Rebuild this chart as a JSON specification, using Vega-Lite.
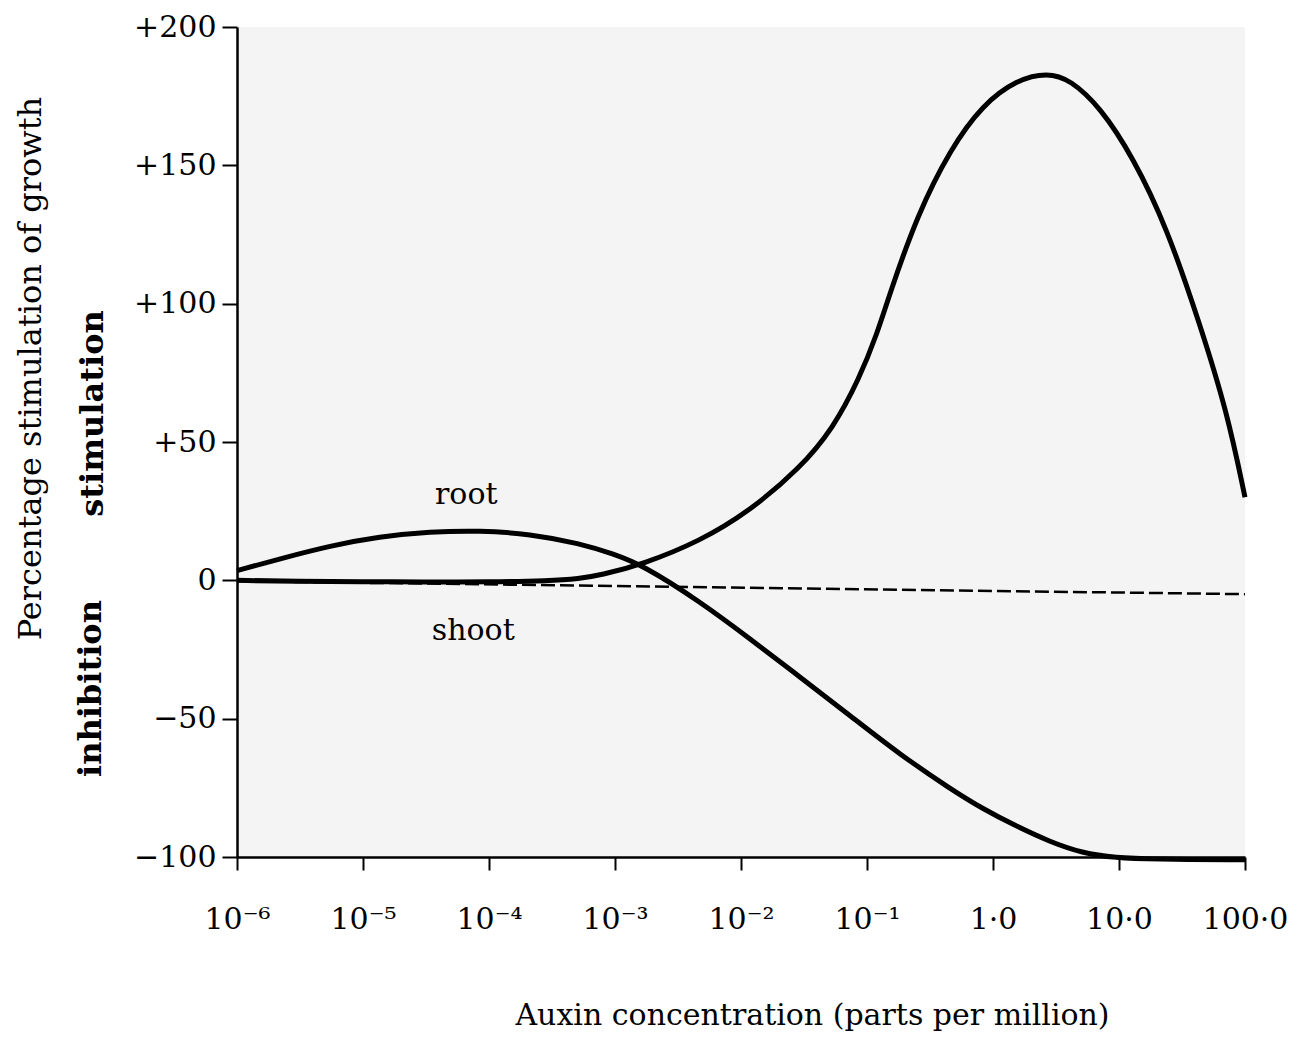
{
  "$schema": "https://vega.github.io/schema/vega-lite/v6.json",
  "width": 1008,
  "height": 830,
  "autosize": "none",
  "padding": {"left": 237, "top": 27, "right": 44, "bottom": 181},
  "background": "white",
  "config": {
    "font": "DejaVu Serif",
    "view": {"stroke": null, "fill": "#f4f4f4"},
    "axis": {
      "labelColor": "#000",
      "titleColor": "#000",
      "domainColor": "#000",
      "tickColor": "#000",
      "grid": false,
      "labelFontWeight": "normal",
      "titleFontWeight": "normal"
    }
  },
  "datasets": {
    "curves": [
      {"series": "root", "conc": 1e-6, "pct": 3.5},
      {"series": "root", "conc": 2.2e-6, "pct": 7.8},
      {"series": "root", "conc": 5.5e-6, "pct": 12.5},
      {"series": "root", "conc": 1.35e-5, "pct": 15.8},
      {"series": "root", "conc": 3.4e-5, "pct": 17.6},
      {"series": "root", "conc": 8.5e-5, "pct": 18},
      {"series": "root", "conc": 2.1e-4, "pct": 16.8},
      {"series": "root", "conc": 5.3e-4, "pct": 13.3},
      {"series": "root", "conc": 9.6e-4, "pct": 9.6},
      {"series": "root", "conc": 1.66e-3, "pct": 5.5},
      {"series": "root", "conc": 4.7e-3, "pct": -7.6},
      {"series": "root", "conc": 1.17e-2, "pct": -21},
      {"series": "root", "conc": 2.95e-2, "pct": -35},
      {"series": "root", "conc": 7.4e-2, "pct": -49},
      {"series": "root", "conc": 0.183, "pct": -63},
      {"series": "root", "conc": 0.46, "pct": -75.4},
      {"series": "root", "conc": 0.83, "pct": -82.6},
      {"series": "root", "conc": 1.55, "pct": -89},
      {"series": "root", "conc": 2.8, "pct": -94.4},
      {"series": "root", "conc": 5.1, "pct": -98.6},
      {"series": "root", "conc": 9.5, "pct": -100.3},
      {"series": "root", "conc": 17.8, "pct": -100.8},
      {"series": "root", "conc": 100, "pct": -101},
      {"series": "shoot", "conc": 1e-6, "pct": 0},
      {"series": "shoot", "conc": 3e-6, "pct": -0.4},
      {"series": "shoot", "conc": 1e-5, "pct": -0.5},
      {"series": "shoot", "conc": 3e-5, "pct": -0.6},
      {"series": "shoot", "conc": 1e-4, "pct": -0.6},
      {"series": "shoot", "conc": 3e-4, "pct": -0.2},
      {"series": "shoot", "conc": 5.2e-4, "pct": 0.6},
      {"series": "shoot", "conc": 7.6e-4, "pct": 1.8},
      {"series": "shoot", "conc": 1.66e-3, "pct": 5.8},
      {"series": "shoot", "conc": 4.7e-3, "pct": 14.1},
      {"series": "shoot", "conc": 1.17e-2, "pct": 25},
      {"series": "shoot", "conc": 2.95e-2, "pct": 40.6},
      {"series": "shoot", "conc": 5.4e-2, "pct": 55},
      {"series": "shoot", "conc": 8.7e-2, "pct": 73},
      {"series": "shoot", "conc": 0.12, "pct": 89},
      {"series": "shoot", "conc": 0.15, "pct": 103},
      {"series": "shoot", "conc": 0.25, "pct": 132},
      {"series": "shoot", "conc": 0.46, "pct": 156},
      {"series": "shoot", "conc": 0.83, "pct": 172},
      {"series": "shoot", "conc": 1.55, "pct": 181},
      {"series": "shoot", "conc": 2.7, "pct": 183.5},
      {"series": "shoot", "conc": 4.1, "pct": 181},
      {"series": "shoot", "conc": 7.1, "pct": 171},
      {"series": "shoot", "conc": 12.9, "pct": 153},
      {"series": "shoot", "conc": 24, "pct": 127.5},
      {"series": "shoot", "conc": 43.7, "pct": 92.8},
      {"series": "shoot", "conc": 72, "pct": 61},
      {"series": "shoot", "conc": 100, "pct": 30}
    ],
    "baseline": [
      {"conc": 1e-6, "pct": -0.3},
      {"conc": 100, "pct": -5}
    ],
    "labels": [
      {"label": "root", "conc": 6.6e-5, "pct": 27.5},
      {"label": "shoot", "conc": 7.5e-5, "pct": -21.4}
    ]
  },
  "layer": [
    {
      "data": {"name": "curves"},
      "mark": {"type": "line", "interpolate": "basis", "strokeWidth": 5, "color": "#000", "clip": false},
      "encoding": {
        "x": {
          "field": "conc", "type": "quantitative",
          "scale": {"type": "log", "domain": [1e-6, 100], "nice": false},
          "axis": {
            "values": [1e-6, 1e-5, 1e-4, 1e-3, 1e-2, 1e-1, 1, 10, 100],
            "labelExpr": "['10⁻⁶','10⁻⁵','10⁻⁴','10⁻³','10⁻²','10⁻¹','1·0','10·0','100·0'][round(log(datum.value)/LN10)+6]",
            "labelFontSize": 30,
            "labelPadding": 34,
            "labelFlush": false,
            "labelOverlap": false,
            "tickSize": 13,
            "tickWidth": 2,
            "domainWidth": 2.5,
            "title": "Auxin concentration (parts per million)",
            "titleFontSize": 30,
            "titleX": 575,
            "titleY": 167,
            "titleAlign": "center",
            "titleBaseline": "alphabetic"
          }
        },
        "y": {
          "field": "pct", "type": "quantitative",
          "scale": {"domain": [-100, 200], "nice": false, "zero": false},
          "axis": {
            "orient": "left",
            "values": [-100, -50, 0, 50, 100, 150, 200],
            "labelExpr": "datum.value > 0 ? '+' + datum.value : (datum.value < 0 ? '−' + abs(datum.value) : '0')",
            "labelFontSize": 30,
            "labelPadding": 6,
            "labelFlush": false,
            "labelOverlap": false,
            "tickSize": 15,
            "tickWidth": 2,
            "domainWidth": 2.5,
            "title": "Percentage stimulation of growth",
            "titleFontSize": 32,
            "titleAngle": -90,
            "titleX": -207,
            "titleY": 341,
            "titleAlign": "center",
            "titleBaseline": "middle"
          }
        },
        "detail": {"field": "series", "type": "nominal"}
      }
    },
    {
      "data": {"name": "baseline"},
      "mark": {"type": "line", "strokeWidth": 2.5, "strokeDash": [14, 5], "color": "#000"},
      "encoding": {
        "x": {"field": "conc", "type": "quantitative", "axis": null},
        "y": {
          "field": "pct", "type": "quantitative",
          "axis": {
            "orient": "left",
            "labels": false, "ticks": false, "domain": false,
            "title": "stimulation",
            "titleFontSize": 32,
            "titleFontWeight": "bold",
            "titleAngle": -90,
            "titleX": -145,
            "titleY": 386,
            "titleAlign": "center",
            "titleBaseline": "middle"
          }
        }
      }
    },
    {
      "data": {"name": "labels"},
      "mark": {"type": "text", "fontSize": 30, "baseline": "alphabetic", "align": "center", "color": "#000"},
      "encoding": {
        "x": {"field": "conc", "type": "quantitative", "axis": null},
        "y": {
          "field": "pct", "type": "quantitative",
          "axis": {
            "orient": "left",
            "labels": false, "ticks": false, "domain": false,
            "title": "inhibition",
            "titleFontSize": 32,
            "titleFontWeight": "bold",
            "titleAngle": -90,
            "titleX": -147,
            "titleY": 661,
            "titleAlign": "center",
            "titleBaseline": "middle"
          }
        },
        "text": {"field": "label", "type": "nominal"}
      }
    }
  ],
  "resolve": {"axis": {"x": "independent", "y": "independent"}}
}
